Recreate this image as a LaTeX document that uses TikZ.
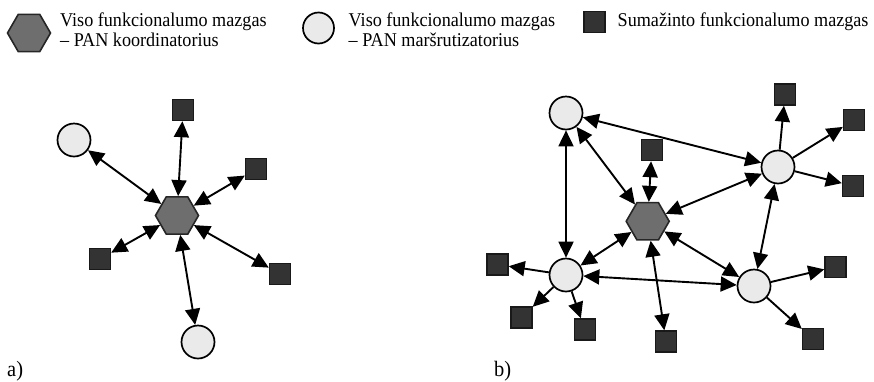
\documentclass[tikz,border=0pt]{standalone}
\usepackage{fontspec}
\setmainfont{Liberation Serif}
\newfontfamily\legfont[FakeStretch=0.93]{Liberation Serif}
\usetikzlibrary{shapes.geometric,arrows.meta}
\definecolor{hexfill}{HTML}{6E6E6E}
\definecolor{circfill}{HTML}{EAEAEA}
\definecolor{sqfill}{HTML}{333333}
\tikzset{
  hexnode/.style={regular polygon,regular polygon sides=6,minimum size=43pt,inner sep=0pt,draw=black!85,line width=1.6pt,fill=hexfill},
  circnode/.style={circle,minimum size=33pt,inner sep=0pt,draw=black,line width=1.7pt,fill=circfill},
  sqnode/.style={rectangle,minimum size=21pt,inner sep=0pt,draw=black!90,line width=1.4pt,fill=sqfill},
  tip/.tip={Triangle[length=16pt,width=15pt]},
  bi/.style={line width=1.9pt,tip-tip},
  uni/.style={line width=1.9pt,-tip},
  legtext/.style={anchor=base west,inner sep=0pt,font=\legfont\fontsize{19.5}{21}\selectfont},
  panlabel/.style={anchor=base west,inner sep=0pt,font=\legfont\fontsize{22}{24}\selectfont}
}
\begin{document}
\begin{tikzpicture}[x=1pt,y=-1pt]
\useasboundingbox (0,0) rectangle (874,381);
% legend
\node[hexnode] (lh) at (29,33) {};
\node[legtext] (lt1) at (60,26.7) {Viso funkcionalumo mazgas};
\node[legtext] (lt2) at (60,46) {– PAN koordinatorius};
\node[circnode,minimum size=31pt] (lc) at (318.5,28) {};
\node[legtext] (lt3) at (348.5,26.7) {Viso funkcionalumo mazgas};
\node[legtext] (lt4) at (348.5,46) {– PAN maršrutizatorius};
\node[sqnode] (ls) at (594.5,21.7) {};
\node[legtext] (lt5) at (617.5,26.7) {Sumažinto funkcionalumo mazgas};
% panel a
\node[hexnode] (ha) at (177,215.5) {};
\node[circnode] (ca1) at (74,140) {};
\node[circnode] (ca2) at (198,342) {};
\node[sqnode] (sa1) at (183,110) {};
\node[sqnode] (sa2) at (256,169) {};
\node[sqnode] (sa3) at (100,259) {};
\node[sqnode] (sa4) at (280,274) {};
\foreach \n in {ca1,ca2,sa1,sa2,sa3,sa4} \draw[bi] (ha) -- (\n);
\node[panlabel] (la) at (7,376) {a)};
% panel b
\node[hexnode] (hb) at (647.7,221.3) {};
\node[circnode] (cTL) at (566,113) {};
\node[circnode] (cTR) at (778,167) {};
\node[circnode] (cBL) at (566,275) {};
\node[circnode] (cBR) at (754,286) {};
\node[sqnode] (sb1) at (651.7,150) {};
\node[sqnode] (sb2) at (666,341.5) {};
\node[sqnode] (sTR1) at (785,94.5) {};
\node[sqnode] (sTR2) at (854,120) {};
\node[sqnode] (sTR3) at (853,186) {};
\node[sqnode] (sBR1) at (835.5,266.7) {};
\node[sqnode] (sBR2) at (813,339) {};
\node[sqnode] (sBL1) at (497.5,264.5) {};
\node[sqnode] (sBL2) at (521.5,317.5) {};
\node[sqnode] (sBL3) at (584.7,329.5) {};
\foreach \n in {cTL,cTR,cBL,cBR,sb1,sb2} \draw[bi] (hb) -- (\n);
\draw[bi] (cTL) -- (cTR);
\draw[bi] (cTL) -- (cBL);
\draw[bi] (cTR) -- (cBR);
\draw[bi] (cBL) -- (cBR);
\foreach \n in {sTR1,sTR2,sTR3} \draw[uni] (cTR) -- (\n);
\foreach \n in {sBR1,sBR2} \draw[uni] (cBR) -- (\n);
\foreach \n in {sBL1,sBL2,sBL3} \draw[uni] (cBL) -- (\n);
\node[panlabel] (lb) at (494,376) {b)};
\end{tikzpicture}
\end{document}
